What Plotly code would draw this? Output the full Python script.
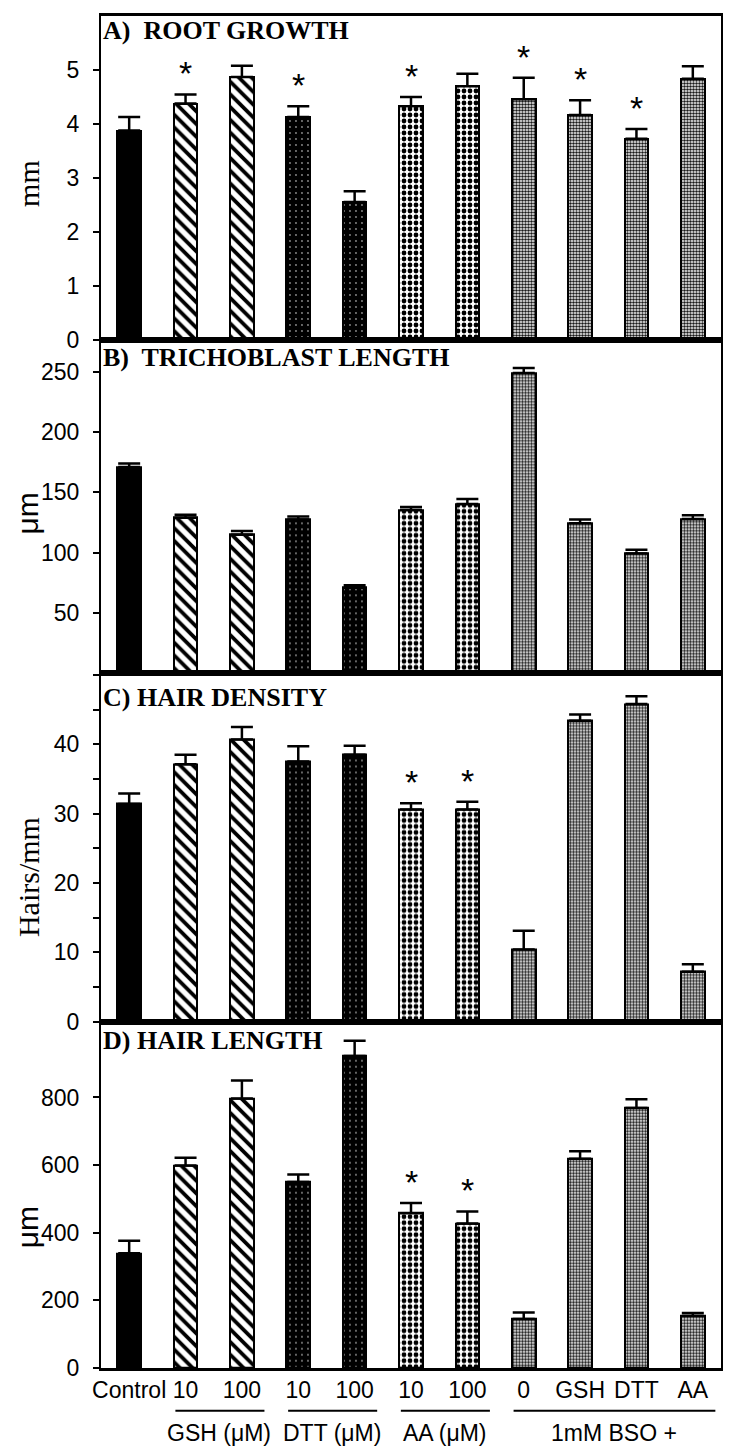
import plotly.graph_objects as go
from plotly.subplots import make_subplots

# bar order: control, GSH 10/100, DTT 10/100, AA 10/100, BSO + (0, GSH, DTT, AA)
tick_labels = ["Control", "10", "100", "10", "100", "10", "100", "0", "GSH", "DTT", "AA"]
bar_group = [0, 1, 1, 2, 2, 3, 3, 4, 4, 4, 4]

root_growth = [3.88, 4.38, 4.87, 4.13, 2.56, 4.33, 4.70, 4.46, 4.17, 3.73, 4.84]
root_growth_err = [0.25, 0.17, 0.21, 0.20, 0.20, 0.17, 0.23, 0.40, 0.27, 0.18, 0.23]
root_growth_star = [1, 3, 5, 7, 8, 9]

tricho_len = [171, 129, 115, 127.5, 71, 135.5, 140.5, 249, 124.5, 99.5, 128]
tricho_len_err = [3, 2.5, 3, 2.5, 2, 2.5, 4, 4, 3, 3, 3]
tricho_len_star = []

hair_dens = [31.4, 37.1, 40.7, 37.5, 38.5, 30.6, 30.6, 10.4, 43.4, 45.8, 7.2]
hair_dens_err = [1.5, 1.4, 1.8, 2.2, 1.3, 0.9, 1.1, 2.7, 0.9, 1.1, 1.1]
hair_dens_star = [5, 6]

hair_len = [339, 599, 797, 550, 923, 458, 427, 145, 619, 769, 154]
hair_len_err = [37, 23, 53, 22, 45, 30, 36, 19, 22, 26, 9]
hair_len_star = [5, 6]

groups = ["GSH (μM)", "DTT (μM)", "AA (μM)", "1mM BSO +"]
group_first = [1, 3, 5, 7]
group_last = [2, 4, 6, 10]

panels = [
    dict(title="A)  ROOT GROWTH", ytitle="mm", yfont="Liberation Serif", vals=root_growth,
         err=root_growth_err, stars=root_growth_star, yrange=[0, 6], tickvals=[0, 1, 2, 3, 4, 5],
         minor=None, ty=0.485, hy=0.955),
    dict(title="B)  TRICHOBLAST LENGTH", ytitle="μm", yfont="Liberation Sans", vals=tricho_len,
         err=tricho_len_err, stars=tricho_len_star, yrange=[0, 276],
         tickvals=[50, 100, 150, 200, 250], minor=None, ty=0.48, hy=0.948),
    dict(title="C) HAIR DENSITY", ytitle="Hairs/mm", yfont="Liberation Serif", vals=hair_dens,
         err=hair_dens_err, stars=hair_dens_star, yrange=[0, 50.2],
         tickvals=[0, 10, 20, 30, 40], minor=5, ty=0.415, hy=0.93),
    dict(title="D) HAIR LENGTH", ytitle="μm", yfont="Liberation Sans", vals=hair_len,
         err=hair_len_err, stars=hair_len_star, yrange=[0, 1024],
         tickvals=[0, 200, 400, 600, 800], minor=None, ty=0.406, hy=0.945),
]

# fill style per group: control, GSH, DTT, AA, BSO
g_shape = ["", "\\", ".", ".", "."]
g_bg = ["black", "white", "black", "white", "white"]
g_fg = ["black", "black", "#8a8a8a", "black", "#1a1a1a"]
g_size = [8, 9, 6, 6, 3]
g_sol = [0.3, 0.42, 0.08, 0.5, 0.55]

x = list(range(len(tick_labels)))
domains = [[0.7601, 1.0], [0.5137, 0.7601], [0.2561, 0.5137], [0.0, 0.2561]]

fig = make_subplots(rows=4, cols=1, shared_xaxes=True, vertical_spacing=0)
sans = "Liberation Sans, Arial, sans-serif"
serif = "Liberation Serif, Times New Roman, serif"

for i, p in enumerate(panels):
    row = i + 1
    fig.add_trace(
        go.Bar(
            x=x,
            y=p["vals"],
            width=0.42,
            marker=dict(
                color="black",
                line=dict(color="black", width=2),
                pattern=dict(
                    shape=[g_shape[g] for g in bar_group],
                    bgcolor=[g_bg[g] for g in bar_group],
                    fgcolor=[g_fg[g] for g in bar_group],
                    size=[g_size[g] for g in bar_group],
                    solidity=[g_sol[g] for g in bar_group],
                    fillmode="replace",
                ),
            ),
            error_y=dict(
                type="data",
                symmetric=False,
                array=p["err"],
                arrayminus=[0] * len(p["err"]),
                color="black",
                thickness=2.5,
                width=11,
            ),
            showlegend=False,
        ),
        row=row,
        col=1,
    )
    yax = dict(
        domain=domains[i],
        range=p["yrange"],
        tickvals=p["tickvals"],
        ticks="outside",
        ticklen=6,
        tickwidth=2,
        tickcolor="black",
        showgrid=False,
        zeroline=False,
        showline=True,
        linecolor="black",
        linewidth=2,
        mirror=True,
        tickfont=dict(family=sans, size=23, color="black"),
        ticklabelstandoff=9,
    )
    if p["minor"]:
        yax["minor"] = dict(dtick=p["minor"], ticks="outside", ticklen=6, tickwidth=2,
                            tickcolor="black", showgrid=False)
    fig.update_yaxes(**yax, row=row, col=1)
    fig.update_xaxes(
        range=[-0.5, 10.5],
        showgrid=False,
        zeroline=False,
        showline=True,
        linecolor="black",
        linewidth=2.5,
        mirror=True,
        ticks="",
        tickvals=x,
        ticktext=tick_labels,
        showticklabels=(row == 4),
        tickfont=dict(family=sans, size=23, color="black"),
        row=row,
        col=1,
    )
    yname = "y" if i == 0 else f"y{i + 1}"
    xname = "x" if i == 0 else f"x{i + 1}"
    fig.add_annotation(
        text=f"<b>{p['title']}</b>",
        xref=f"{xname} domain",
        yref=f"{yname} domain",
        x=0.0,
        y=p["hy"],
        xanchor="left",
        yanchor="middle",
        showarrow=False,
        font=dict(family=serif, size=26, color="black"),
    )
    fig.add_annotation(
        text=p["ytitle"],
        xref="paper",
        yref=f"{yname} domain",
        x=-0.118,
        y=p["ty"],
        xanchor="center",
        yanchor="middle",
        textangle=-90,
        showarrow=False,
        font=dict(family=p["yfont"], size=30, color="black"),
    )
    for k in p["stars"]:
        fig.add_annotation(
            text="*",
            x=k,
            y=p["vals"][k] + p["err"][k],
            xref=xname,
            yref=yname,
            yanchor="middle",
            yshift=21,
            showarrow=False,
            font=dict(family=sans, size=34, color="black"),
        )

for name, a, b in zip(groups, group_first, group_last):
    fig.add_shape(
        type="line",
        xref="x4",
        yref="paper",
        x0=a - 0.18,
        x1=b + 0.4,
        y0=-0.0317,
        y1=-0.0317,
        line=dict(color="black", width=2),
    )
    fig.add_annotation(
        text=name,
        xref="x4",
        yref="paper",
        x=(a + b) / 2 + 0.1,
        y=-0.048,
        xanchor="center",
        yanchor="middle",
        showarrow=False,
        font=dict(family=sans, size=23, color="black"),
    )

# page body has an 8px margin, so the figure is sized to land the plot box in place
fig.update_layout(
    width=726,
    height=1438,
    margin=dict(l=93, r=13, t=5, b=78),
    plot_bgcolor="white",
    paper_bgcolor="white",
    bargap=0,
)

fig.write_html("out.html")
